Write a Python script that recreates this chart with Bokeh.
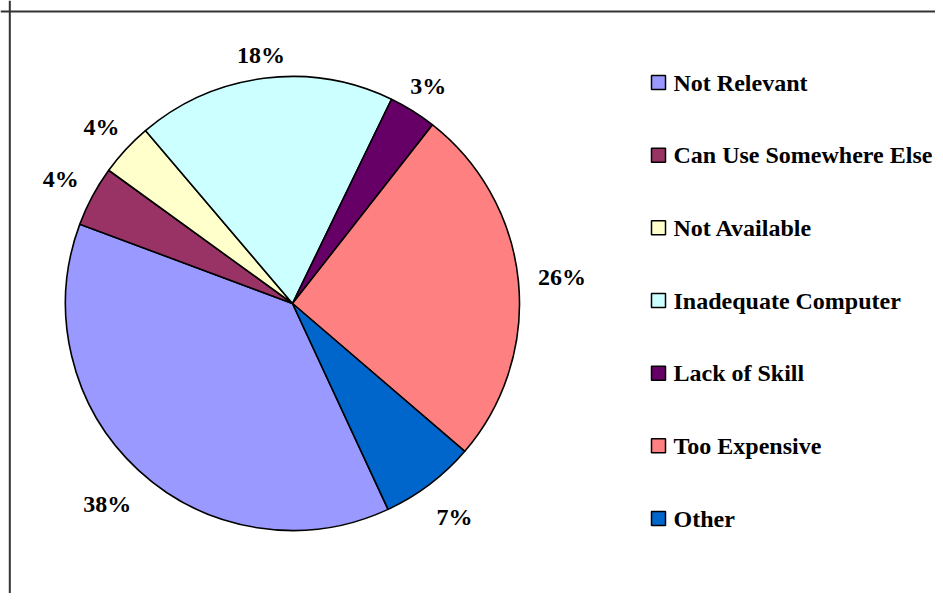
import math
from bokeh.plotting import figure
from bokeh.models import Range1d, Span, ColumnDataSource
from bokeh.core.properties import value
from bokeh.embed import file_html
from bokeh.resources import INLINE

# ---- data ----
categories = ["Not Relevant", "Can Use Somewhere Else", "Not Available",
              "Inadequate Computer", "Lack of Skill", "Too Expensive", "Other"]
shares = [37.6, 4.3, 3.8, 18.4, 3.4, 25.7, 6.8]
colors = ["#9999FF", "#993366", "#FFFFCC", "#CCFFFF", "#660066", "#FF8080", "#0066CC"]

# ---- layout / style ----
W, H = 935, 593
TOP = 601                    # data y of the top edge of the picture
CX, CY = 292, TOP - 303      # pie centre (data units == pixels)
R = 227
FIRST_SLICE_ANGLE = 155.1    # degrees clockwise from 12 o'clock
FONT = '"Liberation Serif", "Times New Roman", serif'

total = sum(shares)
start = math.radians(90 - FIRST_SLICE_ANGLE)
starts, ends, lx, ly, ltxt = [], [], [], [], []
cum = 0.0
for v in shares:
    a0 = start - 2 * math.pi * cum / total
    cum += v
    a1 = start - 2 * math.pi * cum / total
    starts.append(a0)
    ends.append(a1)
    mid = (a0 + a1) / 2
    txt = f"{round(v / total * 100)}%"
    hw = 6 * (len(txt) - 1) + 12
    s, c = math.sin(mid), math.cos(mid)
    hh = 0 if s > 0 else 13
    r = R + 20 + hw * abs(c) + hh * abs(s)
    lx.append(CX + r * c)
    ly.append(CY + r * s)
    ltxt.append(txt)

src = ColumnDataSource(dict(cat=categories, color=colors, start=starts, end=ends))

p = figure(width=W, height=H, x_range=Range1d(0, W), y_range=Range1d(TOP - H, TOP),
           output_backend="svg", toolbar_location=None, min_border=0,
           x_axis_type=None, y_axis_type=None)
p.grid.visible = False
p.outline_line_color = None
p.background_fill_color = "white"
p.border_fill_color = "white"

p.wedge(x=CX, y=CY, radius=R, start_angle="start", end_angle="end",
        direction="clock", fill_color="color", line_color="black",
        line_width=1.6, source=src)

p.text(x=lx, y=ly, text=ltxt, text_align="center", text_baseline="middle",
       text_font=value(FONT), text_font_style="bold", text_font_size="24px",
       text_color="black")

# legend
row_y = [TOP - (82 + i * 72.67) for i in range(len(categories))]
p.rect(x=[658] * len(categories), y=row_y, width=14, height=14,
       width_units="screen", height_units="screen",
       fill_color=colors, line_color="black", line_width=1.5)
p.text(x=[673] * len(categories), y=row_y, text=categories,
       text_align="left", text_baseline="middle",
       text_font=value(FONT), text_font_style="bold", text_font_size="24px",
       text_color="black")

# chart frame (left and top edges visible)
p.add_layout(Span(location=9.3, dimension="height", line_color="#333333", line_width=2))
p.add_layout(Span(location=TOP - 11, dimension="width", line_color="#333333", line_width=2))

open("out.html", "w").write(file_html(p, INLINE))
